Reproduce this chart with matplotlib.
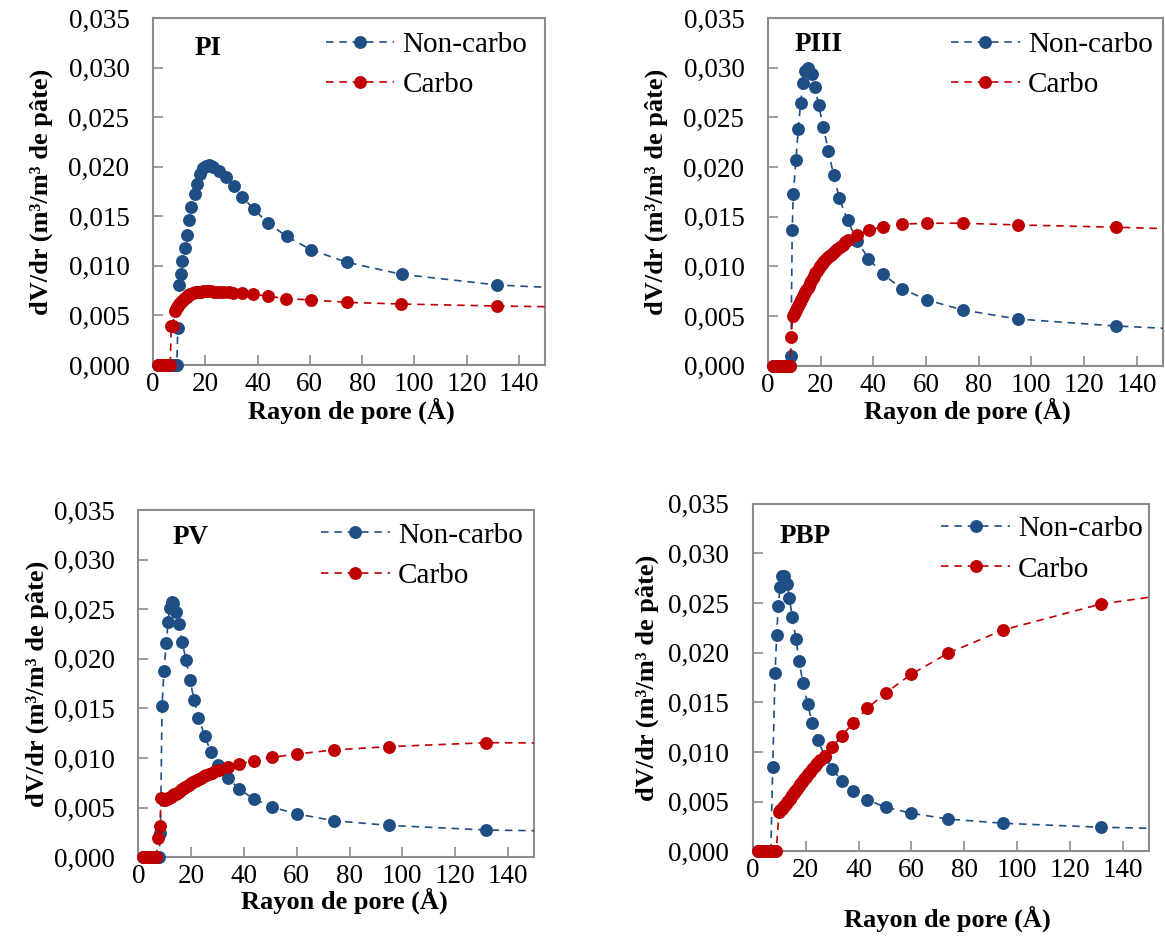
import matplotlib
matplotlib.use("Agg")
import matplotlib.pyplot as plt
from matplotlib.lines import Line2D
from matplotlib.ticker import FuncFormatter, MultipleLocator

plt.rcParams['font.family'] = ['Liberation Serif', 'DejaVu Serif']

# ---------------- data (radius in Å, dV/dr in m3/m3 de pâte) ----------------
# PI
PI_NC_R = [1.8, 2.2, 2.6, 3.0, 3.4, 3.8, 4.3, 4.8, 5.3, 5.8, 6.3, 6.8, 7.3, 7.8, 8.3, 8.7, 9.1,
           9.5, 10.0, 10.6, 11.2, 12.1, 13.0, 13.9, 14.7, 15.9, 16.9, 17.9, 19.1, 20.2, 21.3, 22.3,
           23.1, 25.4, 28.0, 30.9, 34.2, 38.6, 43.9, 51.1, 60.4, 74.2, 95.1, 131.7, 210.0]
PI_NC_V = [0, 0, 0, 0, 0, 0, 0, 0, 0, 0, 0, 0, 0, 0, 0, 0, 0,
           0.0037, 0.0081, 0.00915, 0.0105, 0.0118, 0.0131, 0.0146, 0.0159, 0.01725, 0.0183, 0.0193,
           0.01985, 0.0201, 0.02015, 0.02005, 0.0200, 0.01957, 0.01893, 0.01805, 0.01695, 0.0157,
           0.01435, 0.01298, 0.01163, 0.01036, 0.00915, 0.00807, 0.00708]
PI_C_R = [1.8, 2.2, 2.6, 3.0, 3.4, 3.8, 4.3, 4.8, 5.3, 5.8, 6.3, 6.6, 7.0, 7.5,
          8.3, 8.7, 9.1, 9.5, 9.9, 10.3, 10.8, 11.3, 11.8, 12.3, 12.9, 13.5, 14.1, 14.7, 15.4,
          16.1, 16.8, 17.6, 18.4, 19.3, 20.2, 21.2, 22.3, 23.4, 24.6, 25.9, 27.3, 28.9, 30.7,
          33.9, 38.4, 43.9, 50.9, 60.4, 74.1, 95.0, 131.8, 210.0]
PI_C_V = [0, 0, 0, 0, 0, 0, 0, 0, 0, 0, 0, 0, 0.00397, 0.0039,
          0.00545, 0.00565, 0.00585, 0.0060, 0.00612, 0.00625, 0.00639, 0.00652, 0.00665, 0.00678,
          0.0069, 0.00702, 0.00712, 0.0072, 0.00727, 0.00732, 0.00736, 0.00739, 0.00741, 0.00742,
          0.00743, 0.00743, 0.00742, 0.00741, 0.00739, 0.00737, 0.00735, 0.00732, 0.00729,
          0.00722, 0.00712, 0.00695, 0.0067, 0.00656, 0.00632, 0.00615, 0.00595, 0.00565]

# PIII
PIII_NC_R = [1.8, 2.2, 2.6, 3.0, 3.4, 3.8, 4.3, 4.8, 5.3, 5.8, 6.3, 6.8, 7.3, 7.8, 8.2,
             8.7, 9.2, 9.6, 10.6, 11.5, 12.4, 13.2, 14.1, 15.3, 16.6, 17.9, 19.2, 21.0, 22.9,
             24.9, 27.1, 30.2, 33.8, 38.1, 43.7, 50.8, 60.4, 73.9, 94.8, 132.0, 210.0]
PIII_NC_V = [0, 0, 0, 0, 0, 0, 0, 0, 0, 0, 0, 0, 0, 0, 0,
             0.00098, 0.01367, 0.0173, 0.0207, 0.02385, 0.02645, 0.02844, 0.02965, 0.02995,
             0.02938, 0.02804, 0.02623, 0.02405, 0.02166, 0.0192, 0.01684, 0.01463, 0.0126,
             0.01079, 0.0092, 0.00776, 0.00662, 0.00561, 0.0047, 0.0040, 0.0030]
PIII_C_R = [1.8, 2.2, 2.6, 3.0, 3.4, 3.8, 4.3, 4.8, 5.3, 5.8, 6.3, 6.8, 7.3, 7.8, 8.3,
            8.8, 9.4, 9.8, 10.2, 10.6, 11.0, 11.4, 11.8, 12.2, 12.6, 13.0, 13.4, 13.8, 14.2,
            14.6, 15.0, 15.5, 16.0, 16.5, 17.0, 17.5, 18.0, 18.6, 19.2, 19.8, 20.4, 21.0, 21.7,
            22.4, 23.1, 23.8, 24.6, 25.4, 26.3, 27.3, 28.3, 29.4, 30.5,
            33.9, 38.2, 43.7, 50.8, 60.4, 73.9, 94.8, 132.0, 210.0]
PIII_C_V = [0, 0, 0, 0, 0, 0, 0, 0, 0, 0, 0, 0, 0, 0, 0,
            0.00288, 0.00505, 0.00525, 0.00545, 0.00562, 0.0058, 0.00598, 0.00617, 0.00637,
            0.00657, 0.00678, 0.0070, 0.0072, 0.0074, 0.0076, 0.0078, 0.00805, 0.0083, 0.00855,
            0.0088, 0.00905, 0.0093, 0.00955, 0.0098, 0.01003, 0.01022, 0.01042, 0.01062,
            0.01082, 0.0110, 0.01117, 0.01135, 0.01152, 0.0117, 0.01195, 0.0122, 0.01245, 0.0127,
            0.01313, 0.01365, 0.0140, 0.01425, 0.01434, 0.01434, 0.01417, 0.01394, 0.01333]

# PV
PV_NC_R = [1.8, 2.2, 2.6, 3.0, 3.4, 3.8, 4.3, 4.8, 5.3, 5.8, 6.3, 6.8, 7.3, 7.8,
           8.4, 9.0, 9.7, 10.6, 11.3, 11.9, 12.7, 13.3, 14.4, 15.4, 16.6, 18.1, 19.6, 21.1,
           22.8, 25.2, 27.4, 30.3, 33.9, 38.3, 43.8, 50.8, 60.3, 74.0, 94.8, 131.8, 210.0]
PV_NC_V = [0, 0, 0, 0, 0, 0, 0, 0, 0, 0, 0, 0, 0, 0,
           0.00242, 0.01525, 0.0188, 0.0216, 0.02375, 0.0251, 0.0257, 0.02565, 0.02476, 0.0235,
           0.02174, 0.01985, 0.01785, 0.0159, 0.01405, 0.01225, 0.01065, 0.0093, 0.0080, 0.00685,
           0.00588, 0.00504, 0.00436, 0.00369, 0.00322, 0.00275, 0.00245]
PV_C_R = [1.8, 2.2, 2.6, 3.0, 3.4, 3.8, 4.3, 4.8, 5.3, 5.8, 6.3, 6.8,
          7.5, 8.1, 8.7, 9.2, 9.7, 10.2, 10.7, 11.2, 11.7, 12.2, 12.7, 13.2, 13.7, 14.2, 14.8,
          15.4, 16.0, 16.6, 17.2, 17.8, 18.5, 19.2, 19.9, 20.6, 21.4, 22.2, 23.0, 23.9, 24.8,
          25.8, 26.8, 27.9, 29.1, 30.4, 33.9, 38.3, 43.9, 50.8, 60.3, 74.0, 94.8, 131.8, 210.0]
PV_C_V = [0, 0, 0, 0, 0, 0, 0, 0, 0, 0, 0, 0,
          0.00191, 0.00316, 0.00595, 0.00585, 0.0058, 0.00582, 0.00587, 0.00593, 0.0060, 0.00608,
          0.00616, 0.00624, 0.00633, 0.00642, 0.00652, 0.00663, 0.00675, 0.00686, 0.00697,
          0.00708, 0.0072, 0.00732, 0.00744, 0.00755, 0.00767, 0.00779, 0.00791, 0.00803,
          0.00815, 0.00828, 0.0084, 0.00853, 0.00867, 0.00882, 0.00913, 0.00942, 0.00972,
          0.01008, 0.01041, 0.01082, 0.01115, 0.01155, 0.01145]

# PBP
PBP_NC_R = [1.8, 2.2, 2.6, 3.0, 3.4, 3.8, 4.3, 4.8, 5.3, 5.8, 6.3, 6.8,
            7.5, 8.4, 9.0, 9.6, 10.3, 10.9, 11.9, 13.0, 13.8, 14.9, 16.3, 17.5, 18.9, 20.7,
            22.5, 24.5, 27.3, 30.1, 33.6, 38.0, 43.3, 50.4, 59.9, 73.8, 94.8, 131.8, 210.0]
PBP_NC_V = [0, 0, 0, 0, 0, 0, 0, 0, 0, 0, 0, 0,
            0.00853, 0.0180, 0.0218, 0.0247, 0.02666, 0.0277, 0.02775, 0.0269, 0.0255, 0.02357,
            0.02136, 0.01917, 0.01699, 0.01481, 0.0129, 0.01122, 0.00954, 0.00827, 0.00712,
            0.00608, 0.00518, 0.00444, 0.00384, 0.00326, 0.00283, 0.00243, 0.0020]
PBP_C_R = [1.8, 2.2, 2.6, 3.0, 3.4, 3.8, 4.3, 4.8, 5.3, 5.8, 6.3, 6.8, 7.3, 7.8, 8.3, 8.8,
           9.9, 10.4, 10.9, 11.4, 11.9, 12.4, 12.9, 13.4, 13.9, 14.4, 14.9, 15.5, 16.1, 16.7,
           17.3, 17.9, 18.6, 19.3, 20.0, 20.8, 21.6, 22.5, 23.4, 24.4, 25.5, 27.3, 30.1, 33.6,
           38.0, 43.3, 50.4, 59.9, 73.8, 94.8, 131.8, 210.0]
PBP_C_V = [0, 0, 0, 0, 0, 0, 0, 0, 0, 0, 0, 0, 0, 0, 0, 0,
           0.0040, 0.00415, 0.0043, 0.00445, 0.0046, 0.00477, 0.00495, 0.00512, 0.0053, 0.00548,
           0.00566, 0.00588, 0.0061, 0.00632, 0.00655, 0.00678, 0.00703, 0.00728, 0.00752,
           0.00778, 0.00803, 0.0083, 0.00857, 0.00887, 0.00917, 0.0096, 0.0105, 0.01165, 0.0129,
           0.01441, 0.01598, 0.01783, 0.01995, 0.0223, 0.02491, 0.0278]

PANELS = ["PI", "PIII", "PV", "PBP"]
SERIES_LABELS = ["Non-carbo", "Carbo"]
X_TICKS = [0, 20, 40, 60, 80, 100, 120, 140]
XLABEL = "Rayon de pore (Å)"
YLABEL = "dV/dr (m³/m³ de pâte)"

data = {
    "PI": (PI_NC_R, PI_NC_V, PI_C_R, PI_C_V),
    "PIII": (PIII_NC_R, PIII_NC_V, PIII_C_R, PIII_C_V),
    "PV": (PV_NC_R, PV_NC_V, PV_C_R, PV_C_V),
    "PBP": (PBP_NC_R, PBP_NC_V, PBP_C_R, PBP_C_V),
}

# ---------------- layout ----------------
W, H = 1165, 947
fig = plt.figure(figsize=(W / 100, H / 100), dpi=100)

boxes = {  # left, top, right, bottom in pixels
    "PI": (153, 18, 545, 365),
    "PIII": (768, 18, 1163, 365.7),
    "PV": (138.3, 510, 534.3, 857.3),
    "PBP": (752.9, 503.7, 1149.3, 851.4),
}
title_pos = {"PI": (0.107, 0.913), "PIII": (0.068, 0.925), "PV": (0.086, 0.922), "PBP": (0.068, 0.905)}
xlab_pos = {"PI": (0.505, -0.095), "PIII": (0.505, -0.093), "PV": (0.52, -0.088), "PBP": (0.49, -0.157)}
ylab_pos = {"PI": -0.255, "PIII": -0.253, "PV": -0.225, "PBP": -0.237}
leg_anchor = {"PI": (1.0, 1.012), "PIII": (1.018, 1.012), "PV": (1.015, 1.015), "PBP": (1.028, 1.015)}

BLUE = "#1F4E85"
RED = "#C00000"
GRAY = "#8C8C8C"
DASH = (0, (4.5, 3.5))
MS = 9.3

fmt = FuncFormatter(lambda v, p: f"{v:.3f}".replace(".", ","))

for name in PANELS:
    l, t, r, b = boxes[name]
    ax = fig.add_axes([l / W, 1 - b / H, (r - l) / W, (b - t) / H])
    nr, nv, cr, cv = data[name]
    handles = []
    for (rr, vv, col, lab, z) in [(nr, nv, BLUE, SERIES_LABELS[0], 3),
                                  (cr, cv, RED, SERIES_LABELS[1], 5)]:
        ax.plot(rr, vv, linestyle=DASH, color=col, lw=1.2, zorder=z)
        vis = [i for i, x in enumerate(rr) if x <= 150]
        ax.plot(rr, vv, linestyle="none", marker="o", markersize=MS, color=col,
                markeredgewidth=0, markevery=vis, clip_on=False, zorder=z + 0.5)
        handles.append(Line2D([], [], linestyle=DASH, color=col, lw=1.2, marker="o",
                              markersize=MS, markeredgewidth=0, label=lab))
    ax.set_xlim(0, 150)
    ax.set_ylim(0, 0.035)
    ax.set_xticks(X_TICKS)
    ax.yaxis.set_major_locator(MultipleLocator(0.005))
    ax.yaxis.set_major_formatter(fmt)
    ax.tick_params(direction="in", length=7, width=1.2, color=GRAY, labelsize=19.5,
                   top=False, right=False)
    ax.tick_params(axis="y", pad=17)
    ax.tick_params(axis="x", pad=5)
    for s in ax.spines.values():
        s.set_color(GRAY)
        s.set_linewidth(1.5)
        s.set_zorder(2)
    ax.set_xlabel(XLABEL, fontsize=19, fontweight="bold")
    ax.xaxis.set_label_coords(*xlab_pos[name])
    ax.set_ylabel(YLABEL, fontsize=19, fontweight="bold")
    ax.yaxis.set_label_coords(ylab_pos[name], 0.5)
    ax.text(*title_pos[name], name, transform=ax.transAxes, fontsize=19.5, fontweight="bold",
            ha="left", va="center")
    ax.legend(handles=handles, loc="upper right", frameon=False, fontsize=21,
              handlelength=2.35, handletextpad=0.28, borderpad=0.2, borderaxespad=0.4,
              labelspacing=0.47, bbox_to_anchor=leg_anchor[name])

fig.savefig("out.png", dpi=100)
